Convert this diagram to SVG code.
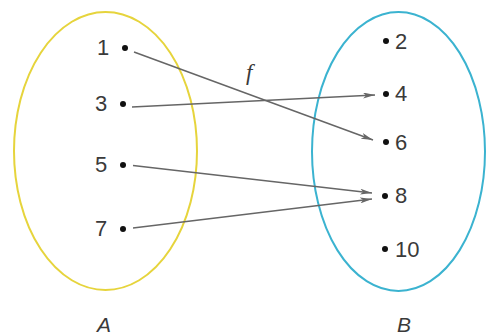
<svg xmlns="http://www.w3.org/2000/svg" width="486" height="336" viewBox="0 0 486 336">
<defs>
<style>
.num{font-family:"Liberation Sans",Arial,sans-serif;font-size:22px;fill:#3a3a3a}
.lbl{font-family:"Liberation Sans",Arial,sans-serif;font-size:21px;font-style:italic;fill:#3a3a3a}
.dot{fill:#111}
.arr{stroke:#666;stroke-width:1.5;fill:none;marker-end:url(#ah)}
</style>
<marker id="ah" markerWidth="12" markerHeight="6" refX="12" refY="3" orient="auto" markerUnits="userSpaceOnUse">
<path d="M0,0 L12,3 L0,6 L3,3 Z" fill="#666"/>
</marker>
</defs>
<rect width="486" height="336" fill="#fff"/>
<g id="setA">
<ellipse cx="105.5" cy="151" rx="91.5" ry="139" fill="none" stroke="#e6d43c" stroke-width="2"/>
<text class="lbl" x="97" y="332">A</text>
</g>
<g id="setB">
<ellipse cx="398.5" cy="151.5" rx="86.5" ry="139.5" fill="none" stroke="#3bb3d0" stroke-width="2"/>
<text class="lbl" x="397" y="332">B</text>
</g>
<g id="a1"><circle class="dot" cx="125" cy="48" r="3"/><text class="num" x="97" y="55">1</text></g>
<g id="a3"><circle class="dot" cx="123" cy="104" r="3"/><text class="num" x="95" y="111">3</text></g>
<g id="a5"><circle class="dot" cx="123" cy="165" r="3"/><text class="num" x="95" y="172">5</text></g>
<g id="a7"><circle class="dot" cx="123" cy="229" r="3"/><text class="num" x="95" y="236">7</text></g>
<g id="b2"><circle class="dot" cx="386" cy="41" r="3"/><text class="num" x="395" y="49">2</text></g>
<g id="b4"><circle class="dot" cx="386" cy="94" r="3"/><text class="num" x="395" y="101">4</text></g>
<g id="b6"><circle class="dot" cx="386" cy="142" r="3"/><text class="num" x="395" y="150">6</text></g>
<g id="b8"><circle class="dot" cx="385" cy="196" r="3"/><text class="num" x="395" y="203">8</text></g>
<g id="b10"><circle class="dot" cx="385" cy="249" r="3"/><text class="num" x="395" y="257">10</text></g>
<g id="connectors">
<line class="arr" x1="134" y1="52" x2="373" y2="140"/>
<line class="arr" x1="132" y1="107" x2="375" y2="95"/>
<line class="arr" x1="133" y1="165.5" x2="372" y2="193"/>
<line class="arr" x1="133" y1="228" x2="372" y2="199"/>
<text class="lbl" x="246" y="80" style="font-family:'Liberation Serif',serif;font-size:23px">f</text>
</g>
</svg>
